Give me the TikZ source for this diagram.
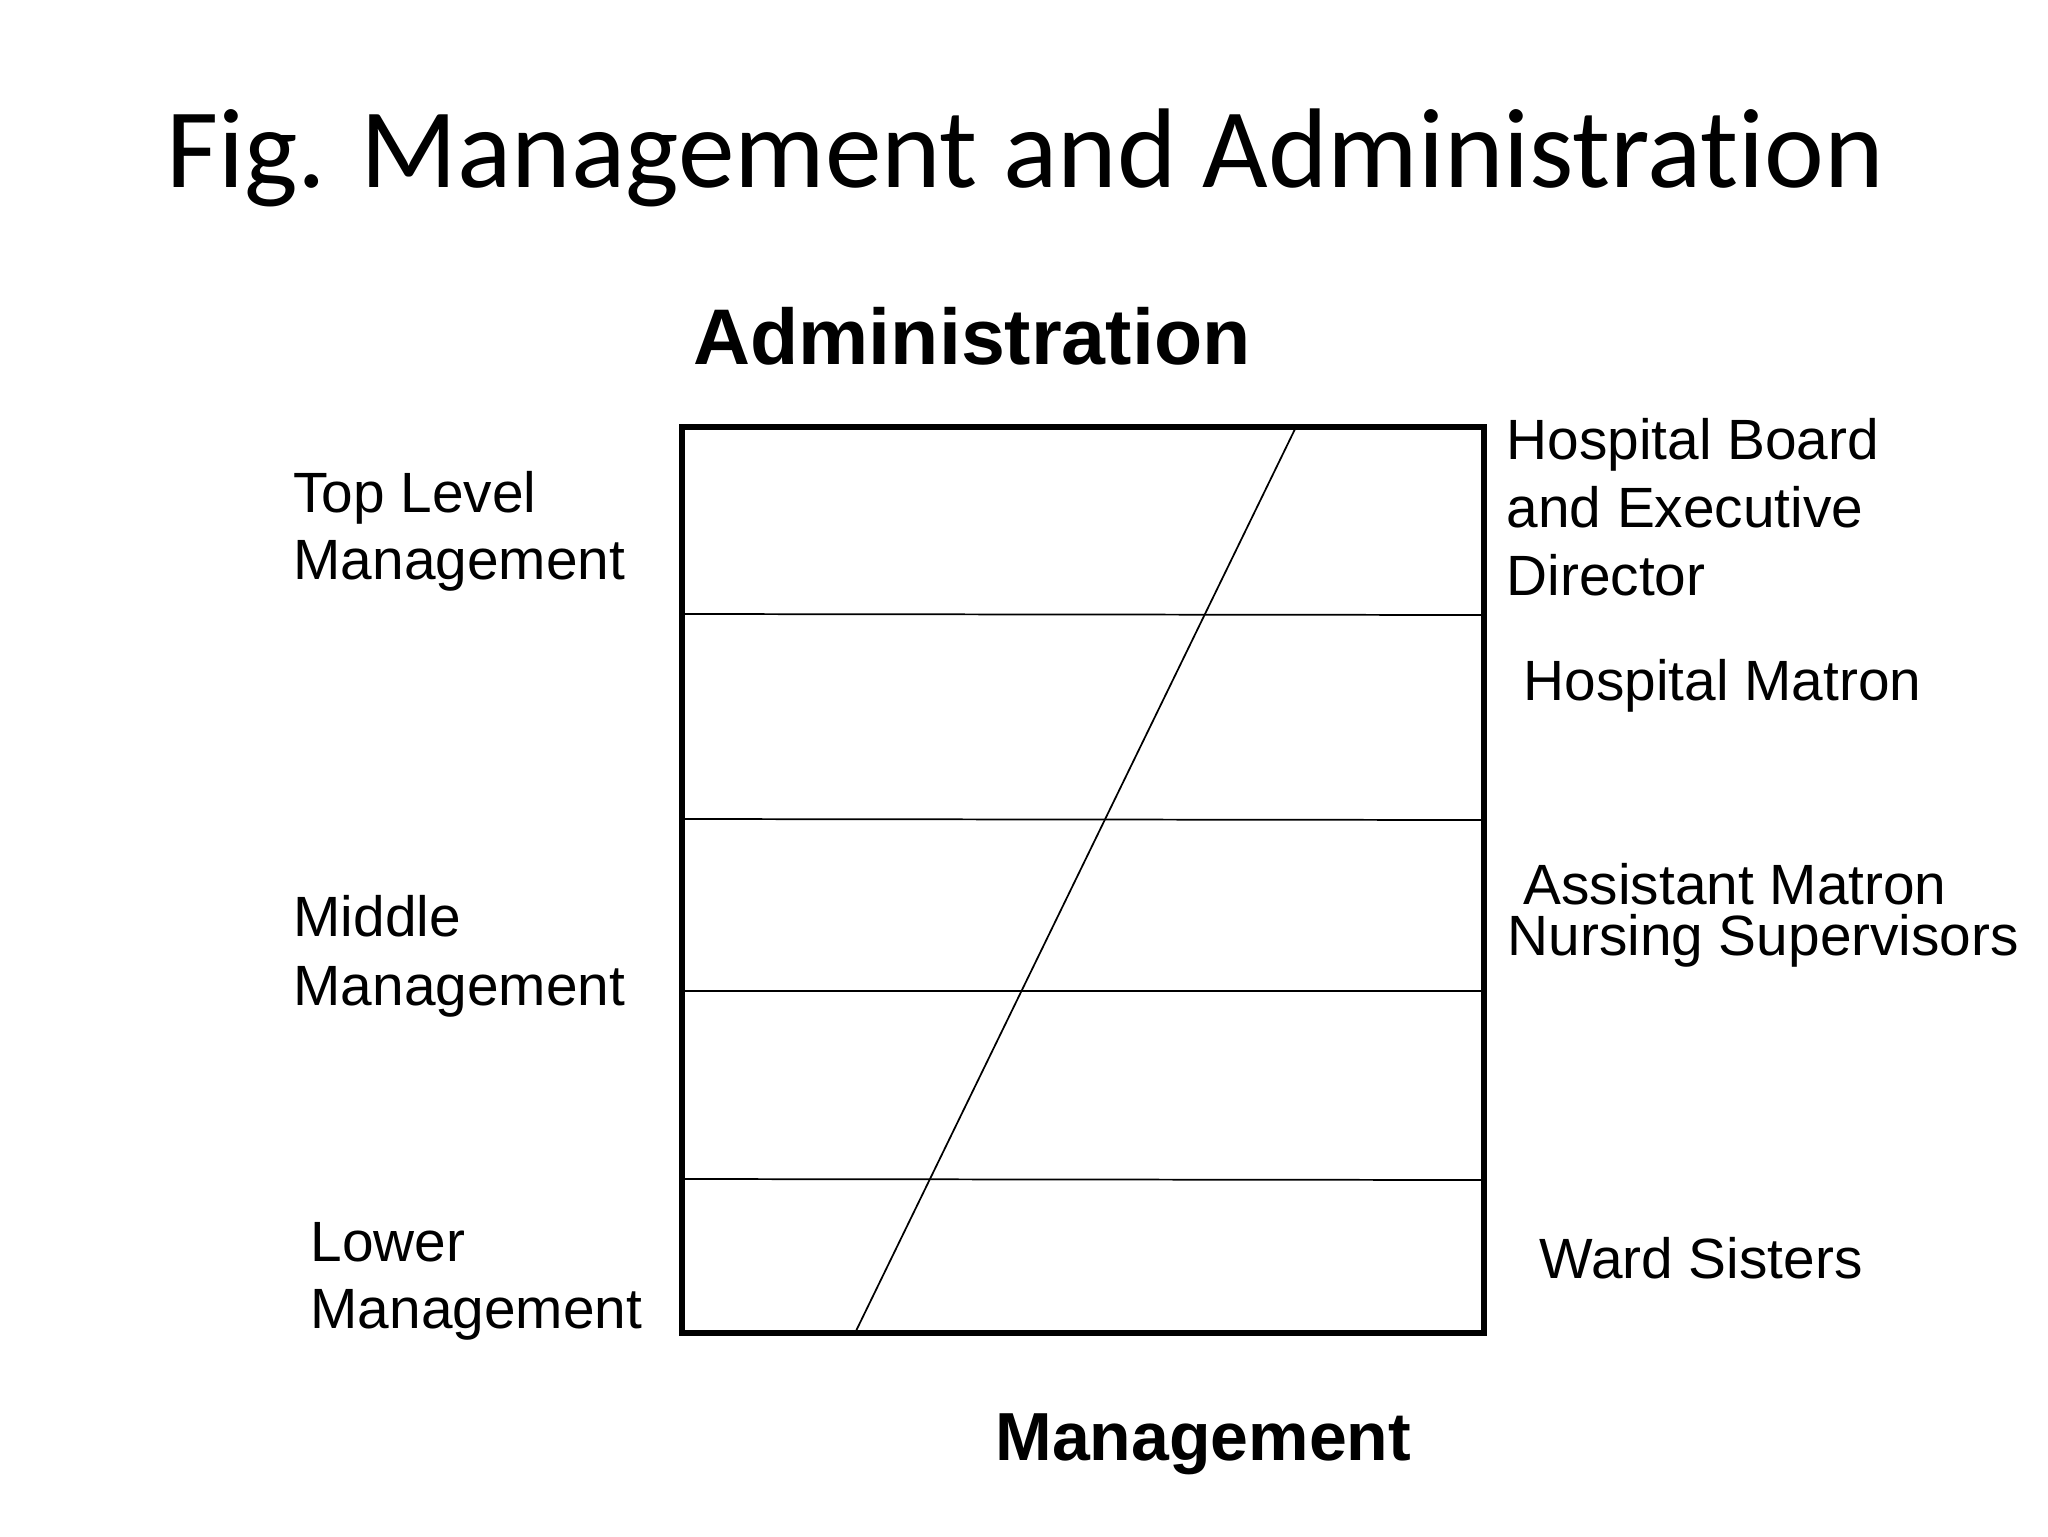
\documentclass[tikz,border=0pt]{standalone}
\usepackage{fontspec}
\setmainfont{Liberation Sans}
\newfontfamily\titlefont[Ligatures=NoCommon]{Carlito}
\begin{document}
\begin{tikzpicture}[x=0.375pt,y=-0.375pt,
  lbl/.style={anchor=base west,inner sep=0pt,font=\fontsize{21.3}{25}\selectfont},
  boxline/.style={line width=2.25pt,line join=miter},
  thinline/.style={line width=0.65pt}]
\useasboundingbox[fill=white] (0,0) rectangle (2048,1536);
% title
\node[anchor=base west,inner sep=0pt,font=\titlefont\fontsize{42.5}{50}\selectfont] (title) at (166,187) {Fig. Management and Administration};
\node[anchor=base west,inner sep=0pt,font=\bfseries\fontsize{29.6}{36}\selectfont] (admin) at (693,364) {Administration};
\node[anchor=base west,inner sep=0pt,font=\bfseries\fontsize{25.5}{30}\selectfont] (mgmt) at (995,1460) {Management};
% box
\coordinate (tl) at (682,427);
\coordinate (br) at (1484,1333);
\draw[boxline] (tl) rectangle (br);
\coordinate (l1) at (682,614);  \coordinate (r1) at (1484,615);
\coordinate (l2) at (682,819);  \coordinate (r2) at (1484,820);
\coordinate (l3) at (682,991);  \coordinate (r3) at (1484,991);
\coordinate (l4) at (682,1179); \coordinate (r4) at (1484,1180);
\draw[thinline] (l1) -- (r1);
\draw[thinline] (l2) -- (r2);
\draw[thinline] (l3) -- (r3);
\draw[thinline] (l4) -- (r4);
\coordinate (st) at (1296,427);
\coordinate (sb) at (855,1333);
\draw[thinline] (st) -- (sb);
% left labels
\node[lbl] (top1) at (293,512) {Top Level};
\node[lbl] (top2) at (293,579) {Management};
\node[lbl] (mid1) at (293,936) {Middle};
\node[lbl] (mid2) at (293,1005) {Management};
\node[lbl] (low1) at (310,1261) {Lower};
\node[lbl] (low2) at (310,1328) {Management};
% right labels
\node[lbl] (hb1) at (1506,459) {Hospital Board};
\node[lbl] (hb2) at (1506,527) {and Executive};
\node[lbl] (hb3) at (1506,595) {Director};
\node[lbl] (hm) at (1523,700) {Hospital Matron};
\node[lbl] (am) at (1523,904) {Assistant Matron};
\node[lbl] (ns) at (1507,955) {Nursing Supervisors};
\node[lbl] (ws) at (1539,1278) {Ward Sisters};
\end{tikzpicture}
\end{document}
